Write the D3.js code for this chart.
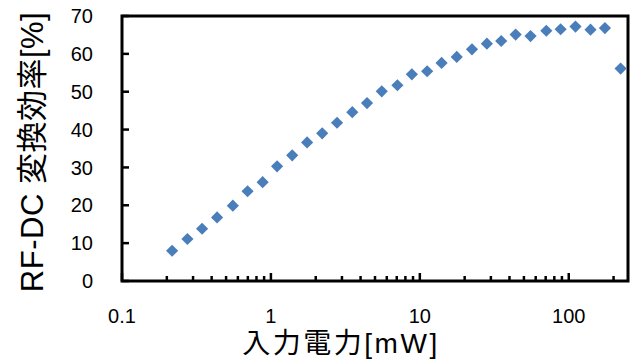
<!DOCTYPE html>
<html>
<head>
<meta charset="utf-8">
<script src="https://cdn.jsdelivr.net/npm/d3@7"></script>
<style>
  body { margin: 0; background: #fff; }
  svg text { font-family: "Liberation Sans", Arial, "Noto Sans CJK JP", sans-serif; fill: #000; }
</style>
</head>
<body>
<div id="chart"></div>
<script>
// input power [mW] and RF-DC efficiency [%]
var power = [0.217, 0.275, 0.345, 0.435, 0.555, 0.697, 0.880, 1.10, 1.39, 1.75,
             2.21, 2.78, 3.52, 4.42, 5.55, 7.07, 8.84, 11.2, 14.0, 17.7,
             22.4, 28.2, 35.2, 44.0, 55.4, 70.7, 88.2, 111, 140, 175, 223];
var efficiency = [8.0, 11.1, 13.8, 16.8, 19.9, 23.7, 26.1, 30.3, 33.2, 36.6,
                  39.0, 41.8, 44.6, 47.0, 50.1, 51.7, 54.6, 55.4, 57.6, 59.2,
                  61.2, 62.7, 63.4, 65.1, 64.7, 66.1, 66.5, 67.2, 66.4, 66.8, 56.1];

var xTicks = [0.1, 1, 10, 100];
var yTicks = [0, 10, 20, 30, 40, 50, 60, 70];
var xLabel = "入力電力[mW]";
var yLabel = "RF-DC 変換効率[%]";

var width = 637, height = 360;
var margin = { top: 16, right: 9, bottom: 79, left: 122 };
var w = width - margin.left - margin.right;
var h = height - margin.top - margin.bottom;

var svg = d3.select("#chart").append("svg")
    .attr("width", width)
    .attr("height", height);

var g = svg.append("g")
    .attr("transform", "translate(" + margin.left + "," + margin.top + ")");

var x = d3.scaleLog().domain([0.1, 250]).range([0, w]);
var y = d3.scaleLinear().domain([0, 70]).range([h, 0]);

// minor ticks on the log axis
var minor = [];
[0.1, 1, 10, 100].forEach(function (d) {
  for (var k = 2; k <= 9; k++) {
    if (d * k < 250) minor.push(d * k);
  }
});

g.selectAll("line.minor").data(minor).enter().append("line")
    .attr("class", "minor")
    .attr("x1", function (d) { return x(d); })
    .attr("x2", function (d) { return x(d); })
    .attr("y1", h)
    .attr("y2", h - 5)
    .attr("stroke", "#000")
    .attr("stroke-width", 2.5);

g.selectAll("line.major").data(xTicks).enter().append("line")
    .attr("class", "major")
    .attr("x1", function (d) { return x(d); })
    .attr("x2", function (d) { return x(d); })
    .attr("y1", h)
    .attr("y2", h - 8)
    .attr("stroke", "#000")
    .attr("stroke-width", 2.5);

g.selectAll("line.ytick").data(yTicks).enter().append("line")
    .attr("class", "ytick")
    .attr("x1", 0)
    .attr("x2", 7)
    .attr("y1", function (d) { return y(d); })
    .attr("y2", function (d) { return y(d); })
    .attr("stroke", "#000")
    .attr("stroke-width", 2.5);

// plot frame
g.append("rect")
    .attr("x", 0)
    .attr("y", 0)
    .attr("width", w)
    .attr("height", h)
    .attr("fill", "none")
    .attr("stroke", "#000")
    .attr("stroke-width", 3);

g.selectAll("text.xlab").data(xTicks).enter().append("text")
    .attr("class", "xlab")
    .attr("x", function (d) { return x(d); })
    .attr("y", h + 42)
    .attr("text-anchor", "middle")
    .style("font-size", "20px")
    .text(function (d) { return d; });

g.selectAll("text.ylab").data(yTicks).enter().append("text")
    .attr("class", "ylab")
    .attr("x", -29)
    .attr("y", function (d) { return y(d); })
    .attr("dy", "0.36em")
    .attr("text-anchor", "end")
    .style("font-size", "20px")
    .text(function (d) { return d; });

// markers
var diamond = d3.symbol().type(d3.symbolSquare).size(74);
var pts = power.map(function (p, i) { return { p: p, e: efficiency[i] }; });
g.selectAll("path.pt").data(pts).enter().append("path")
    .attr("class", "pt")
    .attr("d", diamond)
    .attr("transform", function (d) {
      return "translate(" + x(d.p) + "," + y(d.e) + ") rotate(45)";
    })
    .attr("fill", "#4a7ebb");

svg.append("text")
    .attr("x", 341)
    .attr("y", 353)
    .attr("text-anchor", "middle")
    .style("font-size", "28px")
    .style("letter-spacing", "2.5px")
    .text(xLabel);

svg.append("text")
    .attr("transform", "translate(43," + 152 + ") rotate(-90)")
    .attr("text-anchor", "middle")
    .style("font-size", "31px")
    .style("letter-spacing", "0.5px")
    .text(yLabel);
</script>
</body>
</html>
